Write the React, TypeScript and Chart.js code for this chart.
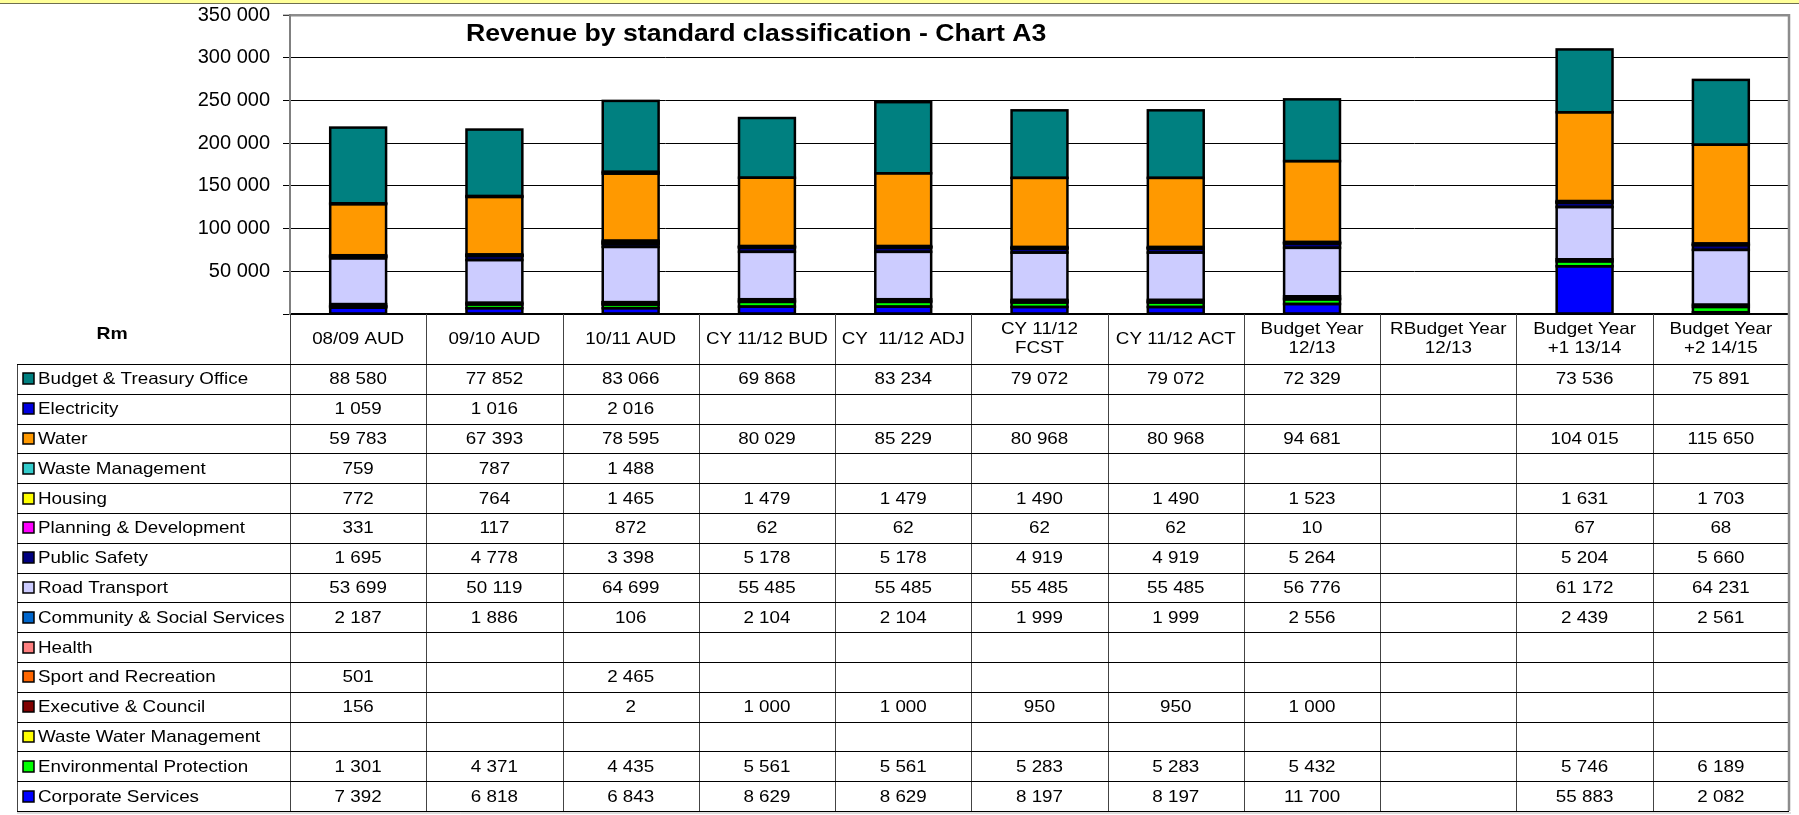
import React, { useEffect, useRef } from 'react';
import { Chart, registerables } from 'chart.js';

Chart.register(...registerables);

const TITLE = 'Revenue by standard classification - Chart A3';
const UNIT_LABEL = 'Rm';

const categories = [
  '08/09 AUD', '09/10 AUD', '10/11 AUD', 'CY 11/12 BUD', 'CY  11/12 ADJ', 'CY 11/12 FCST',
  'CY 11/12 ACT', 'Budget Year 12/13', 'RBudget Year 12/13', 'Budget Year +1 13/14', 'Budget Year +2 14/15',
];
const headerLines = [
  ['08/09 AUD'], ['09/10 AUD'], ['10/11 AUD'], ['CY 11/12 BUD'], ['CY  11/12 ADJ'], ['CY 11/12', 'FCST'],
  ['CY 11/12 ACT'], ['Budget Year', '12/13'], ['RBudget Year', '12/13'], ['Budget Year', '+1 13/14'], ['Budget Year', '+2 14/15'],
];

const yTickMax = 350000;
const yTickStep = 50000;

const seriesNames = [
  'Budget & Treasury Office', 'Electricity', 'Water', 'Waste Management', 'Housing', 'Planning & Development',
  'Public Safety', 'Road Transport', 'Community & Social Services', 'Health', 'Sport and Recreation',
  'Executive & Council', 'Waste Water Management', 'Environmental Protection', 'Corporate Services',
];
const seriesColors = [
  '#008080', '#0000E0', '#FF9900', '#33CCCC', '#FFFF00', '#FF00FF',
  '#000080', '#CCCCFF', '#0066CC', '#FF8080', '#FF6600',
  '#800000', '#FFFF00', '#00FF00', '#0000FF',
];

const budgetTreasury = [88580, 77852, 83066, 69868, 83234, 79072, 79072, 72329, null, 73536, 75891];
const electricity = [1059, 1016, 2016, null, null, null, null, null, null, null, null];
const water = [59783, 67393, 78595, 80029, 85229, 80968, 80968, 94681, null, 104015, 115650];
const wasteManagement = [759, 787, 1488, null, null, null, null, null, null, null, null];
const housing = [772, 764, 1465, 1479, 1479, 1490, 1490, 1523, null, 1631, 1703];
const planning = [331, 117, 872, 62, 62, 62, 62, 10, null, 67, 68];
const publicSafety = [1695, 4778, 3398, 5178, 5178, 4919, 4919, 5264, null, 5204, 5660];
const roadTransport = [53699, 50119, 64699, 55485, 55485, 55485, 55485, 56776, null, 61172, 64231];
const community = [2187, 1886, 106, 2104, 2104, 1999, 1999, 2556, null, 2439, 2561];
const health = [null, null, null, null, null, null, null, null, null, null, null];
const sport = [501, null, 2465, null, null, null, null, null, null, null, null];
const executive = [156, null, 2, 1000, 1000, 950, 950, 1000, null, null, null];
const wasteWater = [null, null, null, null, null, null, null, null, null, null, null];
const environmental = [1301, 4371, 4435, 5561, 5561, 5283, 5283, 5432, null, 5746, 6189];
const corporate = [7392, 6818, 6843, 8629, 8629, 8197, 8197, 11700, null, 55883, 2082];

const seriesValues = [
  budgetTreasury, electricity, water, wasteManagement, housing, planning, publicSafety, roadTransport,
  community, health, sport, executive, wasteWater, environmental, corporate,
];

const FONT = '"Liberation Sans", Arial, Helvetica, sans-serif';

function fmt(v: number | null): string {
  if (v == null) return '';
  return String(v).replace(/\B(?=(\d{3})+(?!\d))/g, ' ');
}

function stretchText(ctx: CanvasRenderingContext2D, text: string, x: number, y: number, sx: number) {
  ctx.save();
  ctx.translate(x, y);
  ctx.scale(sx, 1);
  ctx.fillText(text, 0, 0);
  ctx.restore();
}

const HEADER_H = 50;
const ROW_H = 29.8;
const TABLE_LEFT = 17;
const SX = 1.14;

const backgroundPlugin = {
  id: 'bgPlugin',
  beforeDraw(chart: any) {
    const ctx = chart.ctx as CanvasRenderingContext2D;
    ctx.save();
    ctx.fillStyle = '#ffffff';
    ctx.fillRect(0, 0, chart.width, chart.height);
    ctx.fillStyle = '#FFFF99';
    ctx.fillRect(0, 0, chart.width, 3);
    ctx.fillStyle = '#6f6f50';
    ctx.fillRect(0, 3, chart.width, 1);
    ctx.restore();
  },
};

const outlinePlugin = {
  id: 'outlinePlugin',
  afterDatasetsDraw(chart: any) {
    const ctx = chart.ctx as CanvasRenderingContext2D;
    ctx.save();
    ctx.strokeStyle = '#000';
    ctx.lineWidth = 2.5;
    chart.data.datasets.forEach((ds: any, di: number) => {
      const meta = chart.getDatasetMeta(di);
      meta.data.forEach((el: any, i: number) => {
        if (ds.data[i] == null) return;
        const p = el.getProps(['x', 'y', 'base', 'width'], true);
        ctx.strokeRect(p.x - p.width / 2, Math.min(p.y, p.base), p.width, Math.abs(p.base - p.y));
      });
    });
    ctx.restore();
  },
};

const tablePlugin = {
  id: 'tablePlugin',
  afterDraw(chart: any) {
    const ctx = chart.ctx as CanvasRenderingContext2D;
    const area = chart.chartArea;
    const xs = chart.scales.x;
    const n = categories.length;
    const colW = (area.right - area.left) / n;
    const top = area.bottom;
    const rowsTop = top + HEADER_H;
    const bottom = rowsTop + seriesNames.length * ROW_H;
    const colLeft = (i: number) => xs.getPixelForValue(i) - colW / 2;

    ctx.save();
    // title
    ctx.fillStyle = '#000';
    ctx.font = `bold 24px ${FONT}`;
    ctx.textAlign = 'left';
    ctx.textBaseline = 'middle';
    stretchText(ctx, TITLE, 466, 34, 1.11);

    // vertical lines
    ctx.strokeStyle = '#444';
    ctx.lineWidth = 1;
    for (let i = 0; i <= n; i++) {
      const x = Math.round(colLeft(i)) + 0.5;
      ctx.beginPath();
      ctx.moveTo(x, top);
      ctx.lineTo(x, bottom);
      ctx.stroke();
    }
    ctx.beginPath();
    ctx.moveTo(TABLE_LEFT + 0.5, rowsTop);
    ctx.lineTo(TABLE_LEFT + 0.5, bottom);
    ctx.stroke();

    // horizontal lines
    ctx.strokeStyle = '#000';
    for (let r = 0; r <= seriesNames.length; r++) {
      const y = Math.round(rowsTop + r * ROW_H) + 0.5;
      ctx.beginPath();
      ctx.moveTo(TABLE_LEFT, y);
      ctx.lineTo(area.right, y);
      ctx.stroke();
    }
    ctx.strokeStyle = '#bbb';
    ctx.beginPath();
    ctx.moveTo(TABLE_LEFT, Math.round(bottom) + 2);
    ctx.lineTo(area.right + 2, Math.round(bottom) + 2);
    ctx.stroke();

    // right border
    ctx.strokeStyle = '#8c8c8c';
    ctx.lineWidth = 2.5;
    ctx.beginPath();
    ctx.moveTo(area.right, area.top - 1);
    ctx.lineTo(area.right, bottom);
    ctx.stroke();

    // header texts
    ctx.fillStyle = '#000';
    ctx.textAlign = 'center';
    ctx.textBaseline = 'middle';
    ctx.font = `bold 17px ${FONT}`;
    stretchText(ctx, UNIT_LABEL, 112, top + 20, SX);
    ctx.font = `16.5px ${FONT}`;
    for (let i = 0; i < n; i++) {
      const cx = xs.getPixelForValue(i);
      const lines = headerLines[i];
      const mid = top + HEADER_H / 2;
      if (lines.length === 1) {
        stretchText(ctx, lines[0], cx, mid, SX);
      } else {
        stretchText(ctx, lines[0], cx, mid - 9.5, SX);
        stretchText(ctx, lines[1], cx, mid + 9.5, SX);
      }
    }

    // rows
    for (let r = 0; r < seriesNames.length; r++) {
      const cy = rowsTop + r * ROW_H + ROW_H / 2;
      ctx.fillStyle = seriesColors[r];
      ctx.fillRect(23, Math.round(cy - 5.5), 11, 11);
      ctx.strokeStyle = '#000';
      ctx.lineWidth = 1.5;
      ctx.strokeRect(23, Math.round(cy - 5.5), 11, 11);
      ctx.fillStyle = '#000';
      ctx.textAlign = 'left';
      stretchText(ctx, seriesNames[r], 38, cy + 1, SX);
      ctx.textAlign = 'center';
      const vals = seriesValues[r];
      for (let i = 0; i < n; i++) {
        const t = fmt(vals[i]);
        if (t) stretchText(ctx, t, xs.getPixelForValue(i), cy + 1, SX);
      }
    }
    ctx.restore();
  },
};

export default function App() {
  const ref = useRef<HTMLCanvasElement | null>(null);
  useEffect(() => {
    document.body.style.margin = '0';
    document.body.style.overflow = 'hidden';
    const canvas = ref.current;
    if (!canvas) return;
    const datasets = seriesNames
      .map((name, k) => ({
        label: name,
        data: seriesValues[k],
        backgroundColor: seriesColors[k],
        borderWidth: 0,
        categoryPercentage: 1,
        barPercentage: 0.41,
        stack: 's',
      }))
      .reverse();
    const chart = new Chart(canvas, {
      type: 'bar',
      data: { labels: categories, datasets },
      options: {
        animation: false,
        responsive: false,
        devicePixelRatio: 1,
        layout: { padding: { left: 0, top: 15, right: 10, bottom: 501 } },
        plugins: { legend: { display: false }, title: { display: false }, tooltip: { enabled: false } },
        scales: {
          x: {
            stacked: true,
            grid: { display: false, drawTicks: false },
            ticks: { display: false },
            border: { display: true, color: '#000', width: 2 },
            afterFit: (s: any) => { s.height = 0; },
          },
          y: {
            stacked: true,
            min: 0,
            max: yTickMax,
            ticks: {
              stepSize: yTickStep,
              padding: 13,
              color: '#000',
              font: { family: FONT, size: 20 },
              callback: (v: any) => (v === 0 ? '' : fmt(Number(v))),
            },
            grid: {
              color: (c: any) => (c.tick && c.tick.value === yTickMax ? '#8c8c8c' : '#000'),
              lineWidth: (c: any) => (c.tick && c.tick.value === yTickMax ? 2.5 : 1),
              tickColor: '#000',
              tickLength: 7,
              tickWidth: 1,
            },
            border: { display: true, color: '#808080', width: 2 },
            afterFit: (s: any) => { s.width = 290; s.paddingTop = 0; s.paddingBottom = 0; },
          },
        },
      },
      plugins: [backgroundPlugin, outlinePlugin, tablePlugin],
    });
    return () => chart.destroy();
  }, []);
  return (
    <div style={{ width: 1799, height: 815, overflow: 'hidden' }}>
      <canvas ref={ref} width={1799} height={815} style={{ display: 'block', width: 1799, height: 815 }} />
    </div>
  );
}
